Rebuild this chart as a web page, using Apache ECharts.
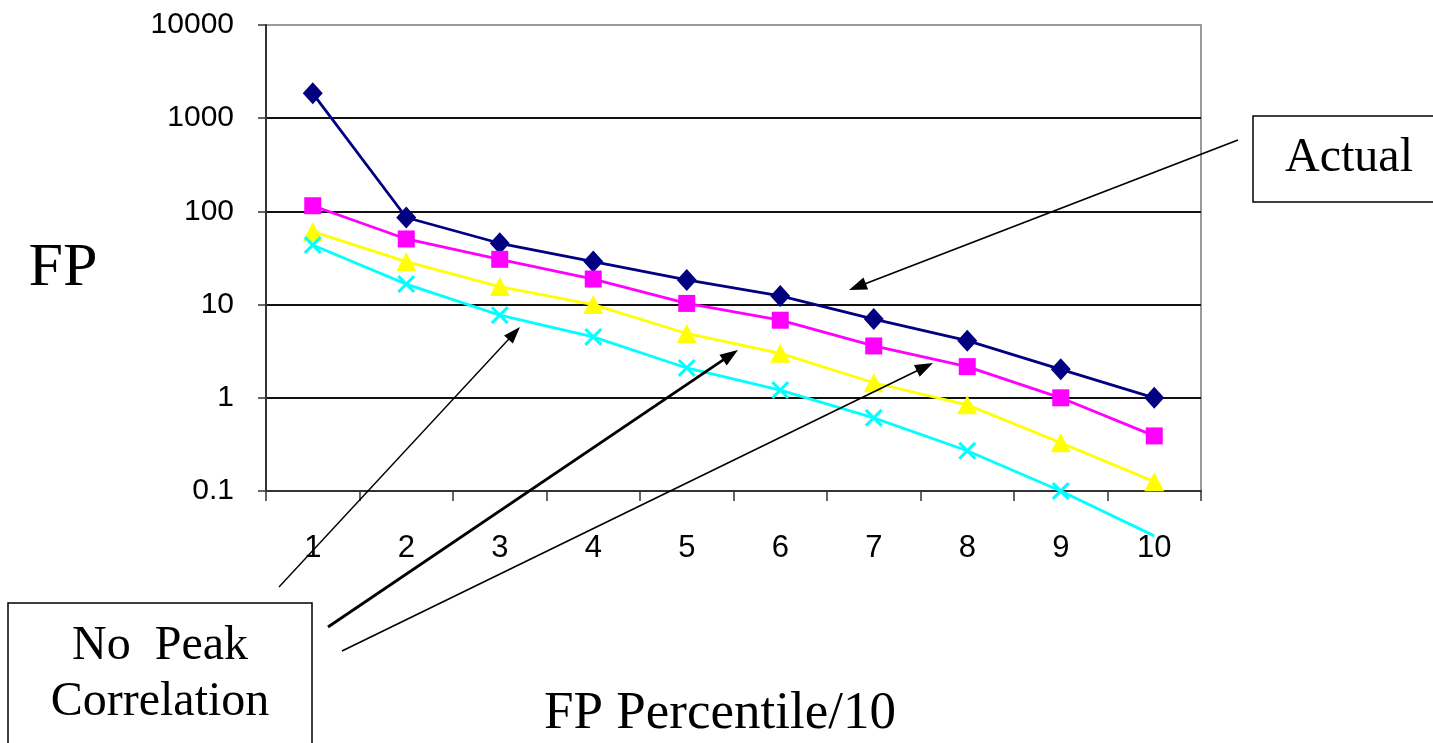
<!DOCTYPE html>
<html>
<head>
<meta charset="utf-8">
<script src="https://cdn.jsdelivr.net/npm/echarts@6/dist/echarts.min.js"></script>
<style>
html,body{margin:0;padding:0;background:#fff;}
#chart{width:1433px;height:743px;}
</style>
</head>
<body>
<div id="chart"></div>
<script>
// ---- data ----
var categories = ['1','2','3','4','5','6','7','8','9','10'];
var actual     = [1850, 86, 45.5, 29, 18.4, 12.4, 7.0, 4.1, 2.02, 1.0];
var noPeakA    = [115, 50.6, 30.6, 18.8, 10.3, 6.8, 3.6, 2.16, 1.0, 0.39];
var noPeakB    = [60.6, 28.9, 15.6, 10, 4.9, 3.0, 1.45, 0.84, 0.33, 0.126];
var noPeakC    = [43.6, 16.6, 7.7, 4.5, 2.09, 1.21, 0.61, 0.27, 0.1, 0.033];
var yTickLabels = ['0.1','1','10','100','1000','10000'];

var chart = echarts.init(document.getElementById('chart'), null, {renderer:'canvas'});

var xSymbol = 'path://M0,1.2 L1.2,0 L5,3.8 L8.8,0 L10,1.2 L6.2,5 L10,8.8 L8.8,10 L5,6.2 L1.2,10 L0,8.8 L3.8,5 Z';

function cyanData(arr){
  return arr.map(function(v){
    return v < 0.1 ? {value:v, symbol:'none'} : v;
  });
}

function arrow(x1,y1,x2,y2,w,headLen,headW){
  var dx=x2-x1, dy=y2-y1, L=Math.sqrt(dx*dx+dy*dy);
  var ux=dx/L, uy=dy/L, px=-uy, py=ux;
  var bx=x2-ux*headLen, by=y2-uy*headLen;
  return [
    {type:'line', z:100, shape:{x1:x1,y1:y1,x2:bx+ux*2,y2:by+uy*2}, style:{stroke:'#000', lineWidth:w}},
    {type:'polygon', z:100, shape:{points:[[x2,y2],[bx+px*headW/2,by+py*headW/2],[bx-px*headW/2,by-py*headW/2]]}, style:{fill:'#000'}}
  ];
}

var graphics = [];
graphics = graphics.concat(arrow(1238,140,849,290,1.8,18,13));
graphics = graphics.concat(arrow(279,587,520,327,1.4,17,12));
graphics = graphics.concat(arrow(328,627,738,350,2.8,18,13));
graphics = graphics.concat(arrow(342,651,933,363,1.6,18,13));
graphics.push({type:'rect', z:90, shape:{x:1253,y:116,width:200,height:86}, style:{fill:'#fff', stroke:'#000', lineWidth:1.5}});
graphics.push({type:'text', z:91, x:1349, y:158, style:{text:'Actual', font:'48px "Liberation Serif"', fill:'#000', textAlign:'center', textVerticalAlign:'middle'}});
graphics.push({type:'rect', z:90, shape:{x:8,y:603,width:304,height:160}, style:{fill:'#fff', stroke:'#000', lineWidth:1.5}});
graphics.push({type:'text', z:91, x:160, y:646, style:{text:'No  Peak', font:'48px "Liberation Serif"', fill:'#000', textAlign:'center', textVerticalAlign:'middle'}});
graphics.push({type:'text', z:91, x:160, y:702, style:{text:'Correlation', font:'48px "Liberation Serif"', fill:'#000', textAlign:'center', textVerticalAlign:'middle'}});
graphics.push({type:'text', z:91, x:63, y:269, style:{text:'FP', font:'62px "Liberation Serif"', fill:'#000', textAlign:'center', textVerticalAlign:'middle'}});
graphics.push({type:'text', z:91, x:720, y:714, style:{text:'FP Percentile/10', font:'53px "Liberation Serif"', fill:'#000', textAlign:'center', textVerticalAlign:'middle'}});

var option = {
  animation:false,
  backgroundColor:'#fff',
  grid:{left:266, top:25, right:232, bottom:252, show:true, borderColor:'#9a9a9a', borderWidth:2, backgroundColor:'transparent'},
  xAxis:{
    type:'category', data:categories, boundaryGap:true,
    axisLine:{lineStyle:{color:'#333', width:2}},
    axisTick:{show:true, alignWithLabel:false, length:10, lineStyle:{color:'#333', width:1.5}},
    axisLabel:{margin:42, fontSize:31, color:'#000', fontFamily:'Liberation Sans'},
    splitLine:{show:false}
  },
  yAxis:{
    type:'log', logBase:10, min:0.1, max:10000,
    axisLine:{show:true, lineStyle:{color:'#333', width:2}},
    axisTick:{show:true, length:8, lineStyle:{color:'#333', width:1.5}},
    axisLabel:{margin:32, fontSize:30, color:'#000', fontFamily:'Liberation Sans',
      formatter:function(v){ var i=Math.round(Math.log10(v))+1; return yTickLabels[i]; }},
    splitLine:{show:true, showMaxLine:false, lineStyle:{color:'#111', width:2}}
  },
  series:[
    {name:'Actual', type:'line', data:actual, clip:false, symbol:'diamond', symbolSize:[20,22],
      lineStyle:{color:'#000080', width:2.8}, itemStyle:{color:'#000080'}},
    {name:'NoPeakA', type:'line', data:noPeakA, clip:false, symbol:'rect', symbolSize:17,
      lineStyle:{color:'#ff00ff', width:2.8}, itemStyle:{color:'#ff00ff'}},
    {name:'NoPeakB', type:'line', data:noPeakB, clip:false, symbol:'triangle', symbolSize:[20,19],
      lineStyle:{color:'#ffff00', width:2.8}, itemStyle:{color:'#ffff00'}},
    {name:'NoPeakC', type:'line', data:cyanData(noPeakC), clip:false, symbol:xSymbol, symbolSize:18,
      lineStyle:{color:'#00ffff', width:2.8}, itemStyle:{color:'#00ffff'}}
  ],
  graphic:graphics
};
chart.setOption(option);
</script>
</body>
</html>
